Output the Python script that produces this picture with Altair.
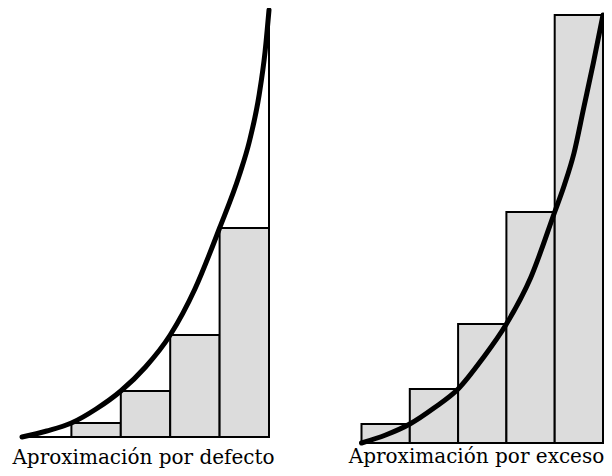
import altair as alt
import pandas as pd

# ---- data ----
# curve samples: x in interval units (0..5), height in picture units
left_curve_x = [0, 0.5, 1, 1.5, 2, 2.5, 3, 3.5, 4, 4.4, 4.6, 4.8, 4.92, 5]
left_curve_y = [0, 6, 14, 28, 46, 70, 102, 148, 209, 262, 295, 342, 385, 427]
right_curve_x = [0, 0.5, 1, 1.5, 2, 2.5, 3, 3.5, 4, 4.2, 4.4, 4.6, 4.8, 5]
right_curve_y = [0, 8, 19, 35, 54, 84, 119, 165, 231, 258, 290, 335, 380, 428]

bar_start = [0, 1, 2, 3, 4]
bar_end = [1, 2, 3, 4, 5]
left_bar_h = [0, 14, 46, 102, 209]      # suma inferior (por defecto)
right_bar_h = [19, 54, 119, 231, 428]   # suma superior (por exceso)

left_label = "Aproximación por defecto"
right_label = "Aproximación por exceso"

FONT = "DejaVu Serif"
W, H = 596, 460


def panel(cx, cy, bh, ymax, xrange, yrange, label, label_dx, label_y, extra_rule):
    curve = pd.DataFrame({"u": cx, "f": cy})
    bars = pd.DataFrame({"a": bar_start, "b": bar_end, "h": bh})
    xs = alt.Scale(domain=[0, 5], range=xrange, nice=False, zero=False)
    ys = alt.Scale(domain=[0, ymax], range=yrange, nice=False, zero=False)
    rects = alt.Chart(bars).mark_rect(fill="#dcdcdc", stroke="black", strokeWidth=2).encode(
        x=alt.X("a:Q", scale=xs, axis=None),
        x2="b:Q",
        y=alt.Y("h:Q", scale=ys, axis=None),
        y2=alt.datum(0),
    )
    base = alt.Chart(pd.DataFrame({"a": [0], "b": [5]})).mark_rule(color="black", strokeWidth=2).encode(
        x=alt.X("a:Q", scale=xs, axis=None), x2="b:Q", y=alt.Y(datum=0, scale=ys, axis=None)
    )
    layers = [rects, base]
    if extra_rule:
        vr = alt.Chart(pd.DataFrame({"a": [5], "top": [cy[-1]]})).mark_rule(
            color="black", strokeWidth=2).encode(
            x=alt.X("a:Q", scale=xs, axis=None),
            y=alt.Y("top:Q", scale=ys, axis=None),
            y2=alt.datum(0),
        )
        layers.append(vr)
    line = alt.Chart(curve).mark_line(color="black", strokeWidth=5, interpolate="monotone",
                                      strokeCap="round").encode(
        x=alt.X("u:Q", scale=xs, axis=None), y=alt.Y("f:Q", scale=ys, axis=None)
    )
    layers.append(line)
    text = alt.Chart(pd.DataFrame({"t": [label], "m": [2.5]})).mark_text(
        font=FONT, fontSize=20, color="black", align="center", baseline="alphabetic",
        dx=label_dx).encode(
        x=alt.X("m:Q", scale=xs, axis=None), y=alt.value(label_y), text="t:N"
    )
    layers.append(text)
    return alt.layer(*layers)


left = panel(left_curve_x, left_curve_y, left_bar_h, 427,
             [14, 261], [429, 2], left_label, -2, 456, True)
right = panel(right_curve_x, right_curve_y, right_bar_h, 433,
              [353.5, 595], [435, 2], right_label, -5.75, 455, False)

chart = alt.layer(left, right).resolve_scale(x="independent", y="independent").properties(
    width=W, height=H,
    autosize=alt.AutoSizeParams(type="none"),
    padding=0,
    background="white",
).configure_view(stroke=None)

chart.save("out.html", embed_options={"renderer": "svg", "actions": False})
